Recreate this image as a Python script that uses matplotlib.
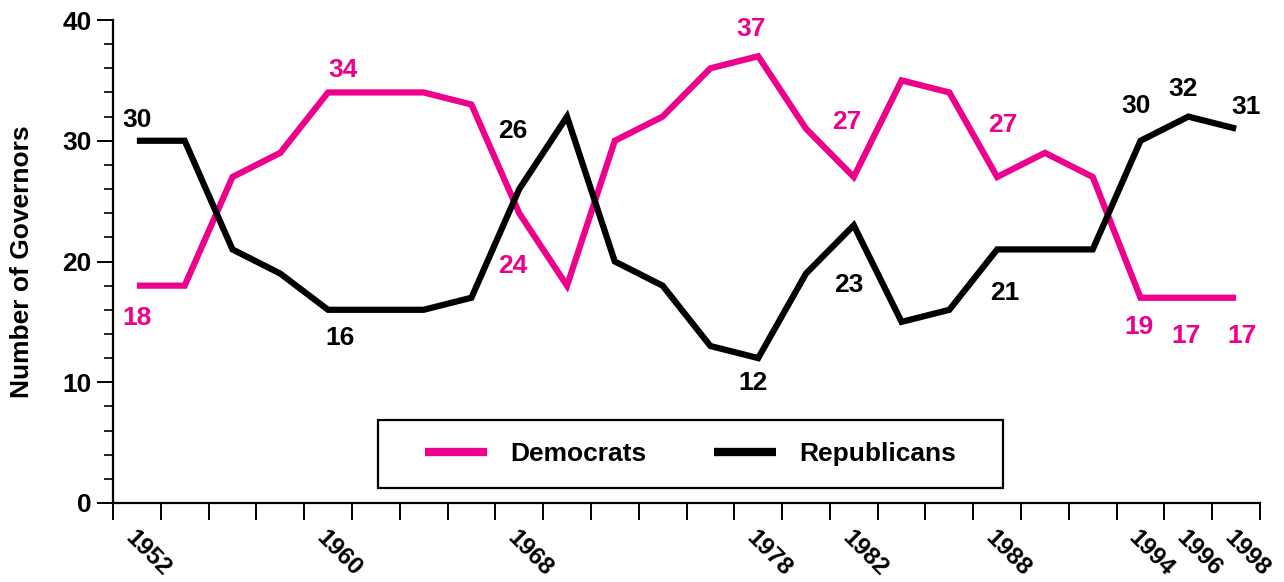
import matplotlib
matplotlib.use("Agg")
import matplotlib.pyplot as plt
from matplotlib.patches import Rectangle
import numpy as np

# ---- data ----
years = list(range(1952, 2000, 2))
democrats = [18, 18, 27, 29, 34, 34, 34, 33, 24, 18, 30, 32, 36, 37, 31, 27, 35, 34, 27, 29, 27, 17, 17, 17]
republicans = [30, 30, 21, 19, 16, 16, 16, 17, 26, 32, 20, 18, 13, 12, 19, 23, 15, 16, 21, 21, 21, 30, 32, 31]
tick_years = [1952, 1960, 1968, 1978, 1982, 1988, 1994, 1996, 1998]

# value annotations: (year, text)
dem_labels = [(1952, "18"), (1960, "34"), (1968, "24"), (1978, "37"), (1982, "27"),
              (1988, "27"), (1994, "19"), (1996, "17"), (1998, "17")]
rep_labels = [(1952, "30"), (1960, "16"), (1968, "26"), (1978, "12"), (1982, "23"),
              (1988, "21"), (1994, "30"), (1996, "32"), (1998, "31")]
# label placement (offsets in category units / value units, relative to the point)
dem_offsets = [(0.0, -2.7), (0.31, 1.9), (-0.13, -4.4), (-0.15, 2.25), (-0.14, 4.55),
               (0.12, 4.3), (-0.03, -2.4), (-0.05, -3.2), (0.12, -3.2)]
rep_offsets = [(0.0, 1.7), (0.25, -2.3), (-0.13, 4.8), (-0.11, -2.06), (-0.1, -4.95),
               (0.16, -3.6), (-0.1, 2.9), (-0.12, 2.3), (0.2, 1.8)]

PINK = "#EC008C"
FONT = "Liberation Sans"

plt.rcParams["font.family"] = [FONT, "DejaVu Sans"]
plt.rcParams["font.weight"] = "bold"

fig = plt.figure(figsize=(12.84, 5.82), dpi=100)
ax = fig.add_axes([113 / 1284, 1 - 503 / 582, 1147 / 1284, 483 / 582])

x = np.arange(len(years))
ax.plot(x, democrats, color=PINK, lw=4.5, solid_joinstyle="miter", solid_capstyle="butt",
        label="Democrats", clip_on=False)
ax.plot(x, republicans, color="black", lw=4.5, solid_joinstyle="miter", solid_capstyle="butt",
        label="Republicans", clip_on=False)

idx = {y: i for i, y in enumerate(years)}
for (yr, txt), (dx, dy) in zip(dem_labels, dem_offsets):
    i = idx[yr]
    ax.text(i + dx, democrats[i] + dy, txt, color=PINK, fontsize=19, fontweight="bold",
            ha="center", va="center")
for (yr, txt), (dx, dy) in zip(rep_labels, rep_offsets):
    i = idx[yr]
    ax.text(i + dx, republicans[i] + dy, txt, color="black", fontsize=19, fontweight="bold",
            ha="center", va="center")

ax.set_xlim(-0.5, len(years) - 0.5)
ax.set_ylim(0, 40)

for s in ["top", "right"]:
    ax.spines[s].set_visible(False)
for s in ["left", "bottom"]:
    ax.spines[s].set_linewidth(1.6)

ax.set_yticks([0, 10, 20, 30, 40])
ax.set_yticks(np.arange(0, 41, 2), minor=True)
ax.tick_params(axis="y", which="major", length=11.5, width=1.4, labelsize=19, pad=4)
ax.tick_params(axis="y", which="minor", length=6.5, width=1.2)
for lab in ax.get_yticklabels():
    lab.set_fontweight("bold")

ax.set_xticks([idx[y] for y in tick_years])
ax.set_xticklabels([str(y) for y in tick_years], rotation=-45, ha="left", va="top",
                   rotation_mode="anchor", fontsize=17.5, fontweight="bold")
ax.set_xticks(np.arange(-0.5, len(years), 1.0), minor=True)
ax.tick_params(axis="x", which="major", length=0, pad=17)
ax.tick_params(axis="x", which="minor", length=12, width=1.4)

ax.set_ylabel("Number of Governors", fontsize=19, fontweight="bold")
ax.yaxis.set_label_coords(-0.069, 0.5)

# legend
leg = ax.legend(loc="center", bbox_to_anchor=(0.5035, 0.1014), ncol=2, frameon=False,
                handlelength=2.35, handletextpad=0.87, columnspacing=2.58,
                prop={"family": [FONT], "weight": "bold", "size": 19})
for h in leg.get_lines():
    h.set_linewidth(6)
ax.add_patch(Rectangle(((378 - 113) / 1147, (503 - 488) / 483), (1003 - 378) / 1147, 68 / 483,
                       transform=ax.transAxes, fill=False, edgecolor="black", lw=1.6,
                       clip_on=False, zorder=5))

fig.savefig("out.png", dpi=100)
